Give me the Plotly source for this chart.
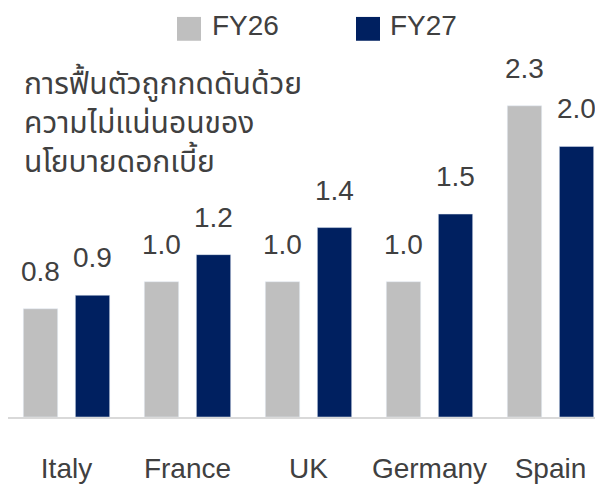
import plotly.graph_objects as go

categories = ["Italy", "France", "UK", "Germany", "Spain"]
fy26 = [0.8, 1.0, 1.0, 1.0, 2.3]
fy27 = [0.9, 1.2, 1.4, 1.5, 2.0]
series_names = ["FY26", "FY27"]
title_lines = ["การฟื้นตัวถูกกดดันด้วย", "ความไม่แน่นอนของ", "นโยบายดอกเบี้ย"]

GRAY = "#bfbfbf"
NAVY = "#002060"
TEXT = "#404040"
FONT = "Liberation Sans, Arial, sans-serif"
THAI_FONT = "Noto Sans Thai, Sukhumvit Set, Loma, Garuda, Liberation Sans, sans-serif"

# page body has an 8px margin; size the figure to fit the window
W, H = 595, 476
ML, MR, MT, MB = 0, 0, 0, 64
PW = W - ML - MR
PH = H - MT - MB

fig = go.Figure()
fig.add_trace(go.Bar(x=categories, y=fy26, name=series_names[0], marker_color=GRAY,
                     showlegend=False))
fig.add_trace(go.Bar(x=categories, y=fy27, name=series_names[1], marker_color=NAVY,
                     showlegend=False))

ann = []
for vals, shift in ((fy26, -26), (fy27, 26)):
    for c, v in zip(categories, vals):
        ann.append(dict(x=c, y=v, xref="x", yref="y", text=f"{v:.1f}", showarrow=False,
                        xshift=shift, yshift=20, yanchor="bottom", xanchor="center",
                        font=dict(family=FONT, size=28, color=TEXT)))

def px_x(p):
    return (p - ML) / PW

def px_y(p):
    return 1 - (p - MT) / PH

ann.append(dict(x=px_x(14), y=px_y(117), xref="paper", yref="paper",
                text="<br>".join(title_lines),
                showarrow=False, xanchor="left", yanchor="middle", align="left",
                font=dict(family=THAI_FONT, size=30, color=TEXT)))

shapes = []
for name, col, x0, tx in ((series_names[0], GRAY, 169, 202), (series_names[1], NAVY, 348, 380)):
    shapes.append(dict(type="rect", xref="paper", yref="paper",
                       x0=px_x(x0), x1=px_x(x0 + 24), y0=px_y(33), y1=px_y(9),
                       fillcolor=col, line=dict(width=0)))
    ann.append(dict(x=px_x(tx), y=px_y(18), xref="paper", yref="paper", text=name,
                    showarrow=False, xanchor="left", yanchor="middle",
                    font=dict(family=FONT, size=28, color=TEXT)))

k = 121.0
r0 = -(58.5 - ML) / k
r1 = r0 + PW / k

fig.update_layout(
    width=W, height=H,
    margin=dict(l=ML, r=MR, t=MT, b=MB, pad=0),
    paper_bgcolor="white", plot_bgcolor="white",
    barmode="group", bargap=0.14, bargroupgap=0.34,
    annotations=ann, shapes=shapes,
    xaxis=dict(type="category", range=[r0, r1], showgrid=False, zeroline=False,
               showline=True, linecolor="#d9d9d9", linewidth=2, ticks="",
               tickfont=dict(family=FONT, size=28, color=TEXT), ticklabelstandoff=25),
    yaxis=dict(range=[0, PH / 136.3], visible=False, showgrid=False, zeroline=False),
)

fig.write_html("out.html")
